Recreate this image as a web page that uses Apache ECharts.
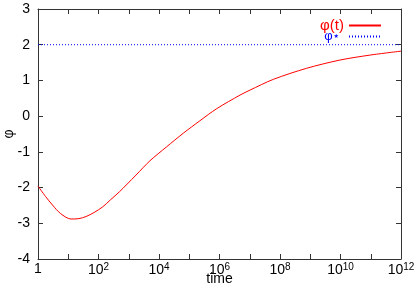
<!DOCTYPE html>
<html><head><meta charset="utf-8">
<script src="https://cdn.jsdelivr.net/npm/echarts@6/dist/echarts.min.js"></script>
<style>html,body{margin:0;padding:0;background:#fff}#c{width:418px;height:291px}</style>
</head><body><div id="c"></div>
<script>
// decimal exponents of time (time = 10^exp) and the curve values
const logTime = [0, 0.25, 0.48, 0.75, 1.09, 1.35, 1.59, 1.85, 2.14, 2.4, 2.69, 2.95, 3.24, 3.70, 4.25, 4.80, 5.35, 5.91, 6.68, 7.01, 7.78, 8.88, 9.98, 10.98, 12];
const phi = [-1.96, -2.25, -2.49, -2.73, -2.88, -2.87, -2.81, -2.70, -2.54, -2.34, -2.12, -1.90, -1.65, -1.25, -0.86, -0.48, -0.13, 0.21, 0.59, 0.73, 1.03, 1.34, 1.57, 1.71, 1.82];
const phiStar = 2;
const timeRange = [1, 1e12];
const yRange = [-4, 3];

const FONT = 'Liberation Sans';
const curve = logTime.map((e, i) => [Math.pow(10, e), phi[i]]);
const starLine = timeRange.map(t => [t, phiStar]);

function xLabel(v) {
  const e = Math.round(Math.log10(v));
  if (e % 2 !== 0) return '';
  if (e === 0) return '1';
  return '{b|10}{s|' + e + '}';
}

const axisLine = { show: true, onZero: false, lineStyle: { color: '#333', width: 1 } };
const tick = { show: true, inside: true, length: 5, lineStyle: { color: '#333' } };
const chart = echarts.init(document.getElementById('c'));
chart.setOption({
  animation: false,
  backgroundColor: '#fff',
  grid: { left: 38, right: 17, top: 9, bottom: 32, containLabel: false, outerBoundsMode: 'none' },
  xAxis: [{
    type: 'log', logBase: 10, min: timeRange[0], max: timeRange[1], interval: 1,
    position: 'bottom',
    name: 'time', nameLocation: 'middle', nameGap: 13, nameMoveOverlap: false,
    nameTextStyle: { fontFamily: FONT, fontSize: 14, color: '#000' },
    axisLine: axisLine, axisTick: tick,
    axisLabel: {
      formatter: xLabel, margin: 3, color: '#000', fontFamily: FONT, fontSize: 14,
      hideOverlap: false,
      rich: {
        b: { fontFamily: FONT, fontSize: 14, color: '#000' },
        s: { fontFamily: FONT, fontSize: 10, color: '#000', padding: [0, 0, 7, 0] }
      }
    },
    splitLine: { show: false }, minorTick: { show: false }
  }, {
    type: 'log', logBase: 10, min: timeRange[0], max: timeRange[1], interval: 1,
    position: 'top',
    axisLine: axisLine, axisTick: tick,
    axisLabel: { show: false }, splitLine: { show: false }
  }],
  yAxis: [{
    type: 'value', min: yRange[0], max: yRange[1], interval: 1,
    position: 'left',
    name: 'φ', nameLocation: 'middle', nameGap: 22, nameRotate: 90, nameMoveOverlap: false,
    nameTextStyle: { fontFamily: FONT, fontSize: 14, color: '#000' },
    axisLine: axisLine, axisTick: tick,
    axisLabel: { margin: 8, color: '#000', fontFamily: FONT, fontSize: 14 },
    splitLine: { show: false }
  }, {
    type: 'value', min: yRange[0], max: yRange[1], interval: 1,
    position: 'right',
    axisLine: axisLine, axisTick: tick,
    axisLabel: { show: false }, splitLine: { show: false }
  }],
  legend: [{
    data: [{ name: 'φ(t)' }],
    right: 31, top: 13, align: 'right', itemWidth: 32, itemHeight: 12, itemGap: 0,
    itemStyle: { opacity: 0 },
    textStyle: { color: '#ff0000', fontFamily: FONT, fontSize: 15 },
    selectedMode: false
  }, {
    data: [{ name: 'φ*' }],
    right: 31, top: 25, align: 'right', itemWidth: 32, itemHeight: 12, itemGap: 0,
    itemStyle: { opacity: 0 },
    formatter: () => '{a|φ}{s|★}',
    textStyle: {
      color: '#0000ff', fontFamily: FONT, fontSize: 13, padding: [0, 5, 0, 0],
      rich: {
        a: { color: '#0000ff', fontFamily: FONT, fontSize: 13 },
        s: { color: '#0000ff', fontFamily: 'DejaVu Sans', fontSize: 6, padding: [0, 0, 0, 1] }
      }
    },
    selectedMode: false
  }],
  series: [{
    name: 'φ(t)', type: 'line', data: curve, smooth: 0.3, symbol: 'none',
    xAxisIndex: 0, yAxisIndex: 0,
    lineStyle: { color: '#ff0000', width: 1 }, itemStyle: { color: '#ff0000' }
  }, {
    name: 'φ*', type: 'line', data: starLine, symbol: 'none',
    xAxisIndex: 0, yAxisIndex: 0,
    lineStyle: { color: '#0000ff', width: 1, type: [1, 2] }, itemStyle: { color: '#0000ff' }
  }]
});
</script></body></html>
